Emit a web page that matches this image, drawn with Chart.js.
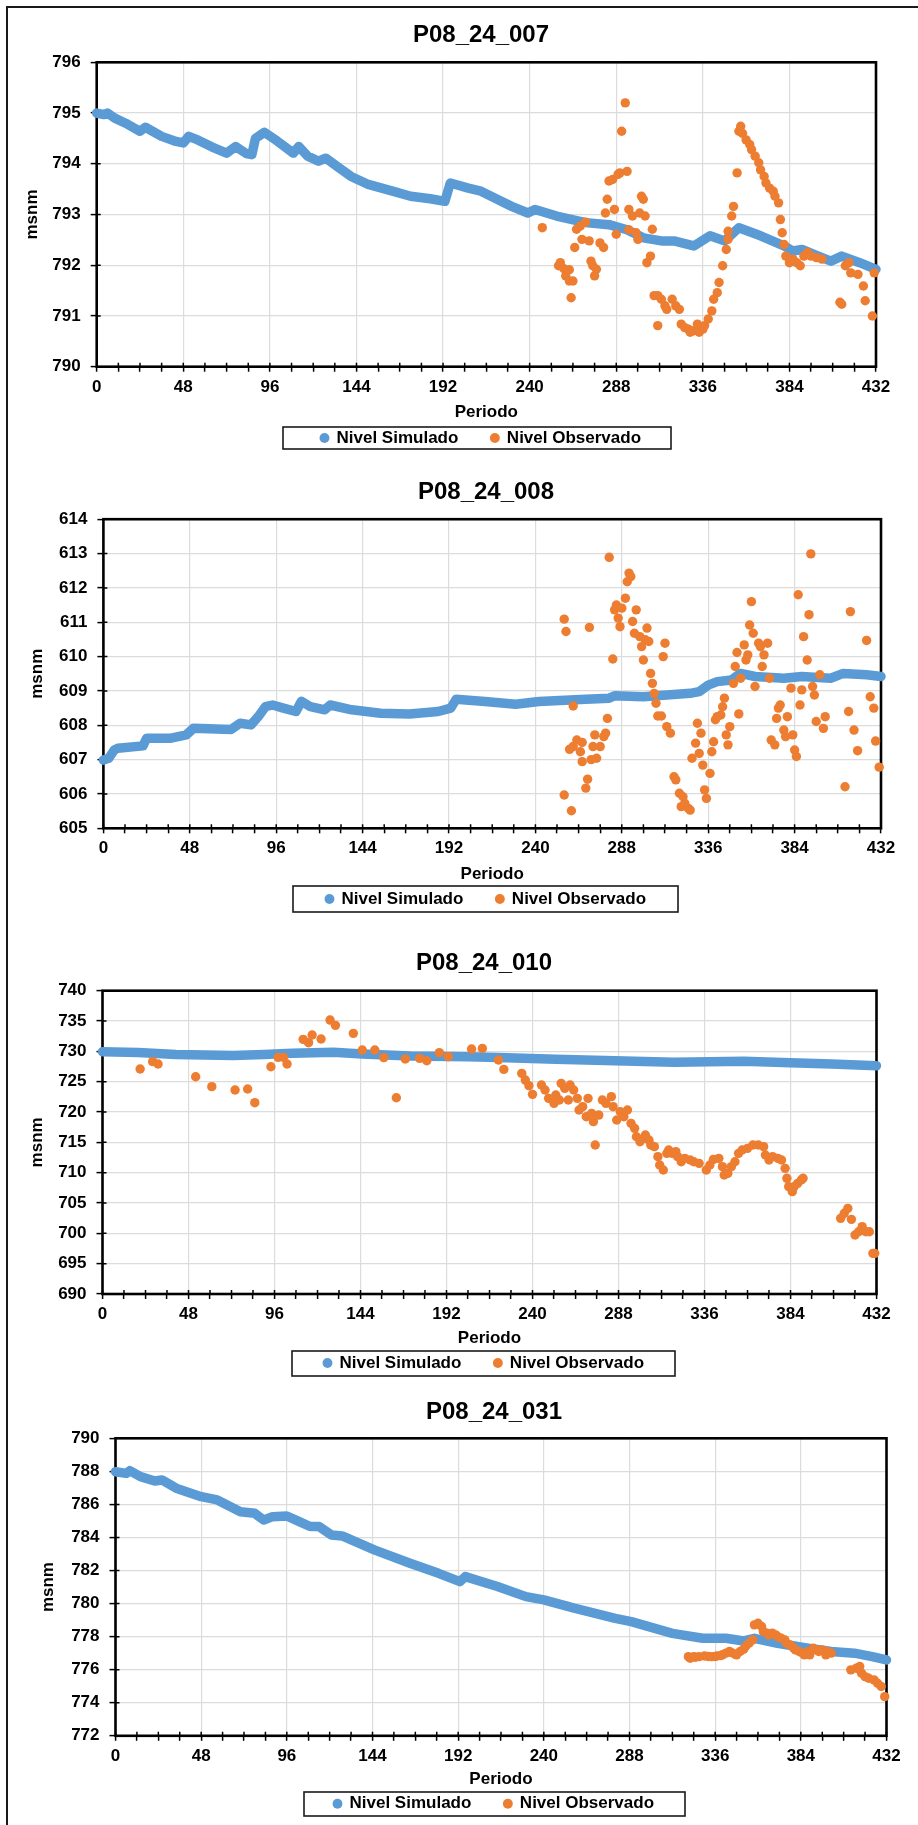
<!DOCTYPE html>
<html>
<head>
<meta charset="utf-8">
<title>Niveles simulados y observados</title>
<script src="https://cdn.jsdelivr.net/npm/chart.js@4.4.1/dist/chart.umd.min.js"></script>
<style>
  html, body { margin: 0; padding: 0; background: #ffffff; }
  #page { position: relative; width: 918px; height: 1825px; overflow: hidden; background: #ffffff; }
  #edge { position: absolute; left: 6px; top: 6px; width: 930px; height: 1840px;
          border-top: 2px solid #1a1a1a; border-left: 2px solid #1a1a1a; }
  canvas { position: absolute; left: 8px; }
</style>
</head>
<body>
<div id="page">
  <div id="edge"></div>
  <canvas id="c007"></canvas>
  <canvas id="c008"></canvas>
  <canvas id="c010"></canvas>
  <canvas id="c031"></canvas>
</div>
<script>
// ---------------- Data ----------------
const pozos = ['P08_24_007', 'P08_24_008', 'P08_24_010', 'P08_24_031'];
const series = ['Nivel Simulado', 'Nivel Observado'];
const periodoTicks = [0, 48, 96, 144, 192, 240, 288, 336, 384, 432];

// P08_24_007
const simPer007 = [0,4,6,10,16,24,27,36,44,48,51,56,64,72,77,83,86,88,93,100,109,112,117,123,127,134,141,150,158,166,174,185,193,196,206,213,222,230,239,243,255,271,284,294,303,313,320,331,340,348,356,368,381,386,391,400,407,413,423,432];
const simNiv007 = [795.0,794.97,795.0,794.9,794.8,794.64,794.72,794.54,794.44,794.41,794.54,794.47,794.33,794.21,794.34,794.2,794.18,794.5,794.62,794.45,794.21,794.34,794.15,794.05,794.11,793.93,793.75,793.6,793.52,793.44,793.36,793.31,793.26,793.62,793.52,793.46,793.3,793.16,793.03,793.1,792.97,792.84,792.8,792.7,792.54,792.48,792.48,792.38,792.58,792.48,792.74,792.58,792.38,792.28,792.31,792.18,792.08,792.18,792.05,791.92];
const obsPer007 = [247,256,257,259,260,262,262,263,264,265,266,268,269,271,273,274,275,276,277,279,281,282,283,284,286,287,288,289,290,291,293,294,295,295,297,299,300,301,302,303,304,305,307,308,309,311,311,313,315,316,319,321,323,324,326,328,329,331,333,334,336,337,339,341,342,344,345,347,349,350,350,352,353,355,356,357,358,360,362,363,365,367,368,370,371,373,375,376,378,379,380,381,382,384,386,388,390,392,394,396,399,402,412,413,415,417,418,422,425,426,430,431];
const obsNiv007 = [792.74,791.99,792.05,791.93,791.79,791.91,791.69,791.36,791.69,792.35,792.71,792.77,792.51,792.85,792.48,792.08,791.99,791.79,791.92,792.44,792.35,793.03,793.3,793.66,793.69,793.1,792.61,793.79,793.82,794.64,795.2,793.85,793.1,792.7,792.97,792.64,792.51,793.03,793.36,793.3,792.97,792.05,792.18,792.71,791.4,790.81,791.4,791.33,791.2,791.13,791.33,791.2,791.13,790.84,790.77,790.74,790.68,790.71,790.84,790.68,790.74,790.81,790.94,791.1,791.33,791.46,791.66,791.99,792.31,792.51,792.67,792.97,793.16,793.82,794.64,794.74,794.6,794.47,794.38,794.28,794.15,794.02,793.88,793.75,793.62,793.52,793.46,793.36,793.23,792.9,792.64,792.41,792.18,792.05,792.12,792.05,791.99,792.18,792.25,792.18,792.15,792.12,791.27,791.23,791.99,792.05,791.85,791.82,791.59,791.3,791.0,791.85];

// P08_24_008
const simPer008 = [0,3,6,8,22,24,37,46,50,71,76,82,86,90,94,100,107,110,115,123,126,138,154,170,186,193,196,212,229,242,268,281,284,300,313,326,331,336,341,349,354,362,378,388,404,411,424,432];
const simNiv008 = [606.99,607.04,607.28,607.33,607.4,607.62,607.62,607.72,607.91,607.88,608.06,608.01,608.25,608.54,608.59,608.5,608.4,608.7,608.54,608.45,608.59,608.45,608.35,608.33,608.4,608.5,608.76,608.69,608.61,608.69,608.76,608.79,608.86,608.83,608.88,608.93,608.98,609.17,609.27,609.32,609.51,609.42,609.37,609.42,609.37,609.51,609.47,609.42];
const obsPer008 = [256,256,257,259,260,261,261,263,265,266,266,268,269,270,271,272,273,274,276,278,279,280,281,283,284,285,286,287,288,290,291,292,293,294,295,296,298,299,300,301,302,303,304,305,306,307,308,310,311,312,313,315,317,318,320,321,322,323,325,326,327,329,330,331,332,333,334,335,337,338,339,340,341,343,344,345,346,347,348,350,351,352,353,354,356,357,358,359,360,361,362,364,365,366,367,369,370,371,373,374,375,376,378,379,380,382,383,384,385,386,387,388,389,391,392,393,394,395,396,398,400,401,412,414,415,417,419,424,426,428,429,431];
const obsNiv008 = [605.97,611.09,610.73,607.3,605.51,608.56,607.38,607.57,607.23,606.94,607.5,606.17,606.43,610.85,607.0,607.38,607.72,607.04,607.38,607.67,607.77,608.2,612.89,609.93,611.36,611.5,611.12,610.87,611.41,611.7,612.18,612.43,612.33,611.02,610.68,611.36,610.58,610.29,609.9,610.49,610.83,610.44,609.51,609.22,608.93,608.64,608.27,608.27,610.0,610.39,607.96,607.77,606.5,606.41,606.02,605.63,605.92,605.73,605.58,605.53,607.04,607.48,608.06,607.18,607.77,606.84,606.12,605.87,606.6,607.23,607.52,608.16,608.25,608.3,608.54,608.79,607.72,607.43,607.96,609.22,609.71,610.12,608.33,609.37,610.34,609.9,610.05,610.92,611.6,610.68,609.13,610.39,610.29,609.71,610.05,610.39,609.37,607.57,607.43,608.2,608.5,608.59,607.86,607.67,608.25,609.08,607.72,607.28,607.09,611.8,608.59,609.03,610.58,609.9,611.22,612.99,609.13,608.88,608.11,609.47,607.91,608.25,606.21,608.4,611.31,607.86,607.26,610.47,608.83,608.5,607.54,606.78];

// P08_24_010
const simPer010 = [0,20,41,73,90,106,129,145,172,204,221,253,286,319,358,384,407,432];
const simNiv010 = [729.95,729.8,729.5,729.3,729.5,729.67,729.84,729.56,729.23,729.1,729.0,728.68,728.46,728.19,728.35,728.13,727.9,727.64];
const obsPer010 = [21,28,31,52,61,74,81,85,94,98,101,103,112,115,117,122,127,130,140,145,152,157,164,169,177,181,188,193,206,212,221,224,234,236,238,240,245,247,249,252,253,255,256,258,260,261,263,265,266,268,270,271,273,274,275,277,279,281,284,285,287,289,291,293,295,297,298,300,302,303,305,306,308,310,311,313,315,316,318,320,321,323,325,328,330,333,337,339,341,344,346,347,349,351,353,355,357,360,363,366,369,370,372,374,377,379,381,382,383,385,386,388,390,391,412,414,416,418,420,422,424,426,428,430,431];
const obsNiv010 = [727.09,728.3,727.91,725.82,724.18,723.63,723.8,721.54,727.47,729.01,729.01,727.91,731.98,731.43,732.69,732.03,735.16,734.29,732.97,730.22,730.22,728.96,722.36,728.74,728.85,728.46,729.78,729.12,730.38,730.49,728.57,727.03,726.37,725.27,724.34,722.91,724.45,723.63,722.25,721.43,722.8,721.98,724.73,723.9,721.98,724.45,723.63,722.25,720.33,720.88,719.23,722.25,719.78,718.41,714.56,719.5,721.98,721.43,722.53,720.88,718.68,720.05,719.23,720.33,718.13,717.31,715.93,715.11,715.66,716.21,715.38,714.56,714.29,712.64,711.26,710.44,713.19,713.74,713.19,713.46,712.64,711.81,712.36,712.09,711.81,711.54,710.44,711.26,712.2,712.36,710.99,709.62,709.89,710.99,711.81,713.19,713.74,714.01,714.56,714.56,714.29,712.91,712.09,712.64,712.36,712.09,710.71,709.07,707.69,706.87,707.69,708.24,708.79,709.07,702.47,703.3,704.12,702.31,699.73,700.27,701.1,700.27,700.27,696.7,696.7];

// P08_24_031
const simPer031 = [0,6,8,14,22,26,34,48,57,70,78,83,88,96,103,109,114,121,127,145,165,181,193,196,214,230,240,257,280,289,312,329,342,352,358,371,388,401,414,424,432];
const simNiv031 = [787.98,787.88,788.04,787.68,787.42,787.48,786.98,786.47,786.27,785.56,785.46,785.06,785.26,785.3,784.96,784.66,784.66,784.15,784.09,783.25,782.44,781.83,781.33,781.63,781.03,780.42,780.22,779.72,779.11,778.91,778.2,777.9,777.9,777.74,777.9,777.6,777.3,777.1,777.0,776.79,776.59];
const obsPer031 = [321,322,324,325,327,330,332,334,336,337,339,340,342,344,345,347,348,350,352,353,355,357,358,360,362,363,365,366,368,370,371,373,375,376,378,380,381,383,385,386,388,389,391,393,394,396,398,399,401,412,415,417,418,420,422,425,427,429,431];
const obsNiv031 = [776.79,776.69,776.79,776.75,776.79,776.83,776.8,776.79,776.8,776.83,776.85,776.9,777.0,777.1,777.04,776.95,776.9,777.1,777.24,777.4,777.6,777.8,778.71,778.81,778.61,778.31,778.21,778.1,778.21,778.1,778.0,777.9,777.8,777.6,777.5,777.3,777.2,777.1,777.0,776.9,777.1,776.9,777.3,777.2,777.1,777.2,776.9,777.1,777.0,775.99,776.09,776.19,775.79,775.58,775.48,775.38,775.18,774.98,774.37];

// y-axis ranges per well
const yMin = [790, 605, 690, 772];
const yMax = [796, 614, 740, 790];
const yStep = [1, 1, 5, 2];

// ---------------- Styling ----------------
const FONT = "'Liberation Sans', Arial, Helvetica, sans-serif";
const BLUE = '#5B9BD5';
const ORANGE = '#ED7D31';
const GRID = '#dcdcdc';
const TITLE_PX = 24, TICK_PX = 17, AXIS_PX = 17, LEGEND_PX = 17;
const LEGEND_GAP = 33;
const Y_LABEL_GAP = 16;    // axis line to right edge of y labels
const X_LABEL_DROP = 20.3; // axis line to centre of x labels

Chart.defaults.font.family = FONT;
Chart.defaults.color = '#000';

// Page placement of each panel: plot rectangle, title / axis-title / legend anchors.
const frames = [
  { top: 12,   l: 96.7,  r: 876,   t: 62.3,   b: 366.7,  cx: 481, ty: 35.2,   py: 412.2,  ly: 438,    mx: 32.5, box: [283, 427, 671, 449] },
  { top: 462,  l: 103.4, r: 881,   t: 519.2,  b: 828.3,  cx: 486, ty: 492.3,  py: 874.3,  ly: 899,    mx: 37,   box: [293, 886, 678, 912] },
  { top: 935,  l: 102.5, r: 876.5, t: 990.7,  b: 1294,   cx: 484, ty: 963.3,  py: 1338.3, ly: 1363,   mx: 37,   box: [292, 1351, 675, 1376] },
  { top: 1385, l: 115.5, r: 886.5, t: 1438.3, b: 1735.8, cx: 494, ty: 1412.3, py: 1779,   ly: 1803.7, mx: 48,   box: [304, 1792, 685, 1816] }
];

function zip(xs, ys) {
  const n = Math.min(xs.length, ys.length);
  const out = [];
  for (let i = 0; i < n; i++) out.push({ x: xs[i], y: ys[i] });
  return out;
}

// widest y tick label, measured with the tick font
const measureCtx = document.createElement('canvas').getContext('2d');
function widestLabel(min, max, step) {
  measureCtx.font = 'bold ' + TICK_PX + 'px ' + FONT;
  let w = 0;
  for (let v = min; v <= max + 1e-9; v += step) w = Math.max(w, measureCtx.measureText(String(v)).width);
  return w;
}

// Plot-area border plus the inner half of the cross tick marks.
const plotFrame = {
  id: 'plotFrame',
  beforeDatasetsDraw(chart) {
    const { ctx, chartArea: a } = chart;
    const xs = chart.scales.x, ys = chart.scales.y;
    ctx.save();
    ctx.strokeStyle = '#000';
    ctx.lineWidth = 1.5;
    ctx.beginPath();
    xs.ticks.forEach(t => {
      const px = xs.getPixelForValue(t.value);
      ctx.moveTo(px, a.bottom); ctx.lineTo(px, a.bottom - 4);
    });
    ys.ticks.forEach(t => {
      const py = ys.getPixelForValue(t.value);
      ctx.moveTo(a.left, py); ctx.lineTo(a.left + 4, py);
    });
    ctx.stroke();
    ctx.lineWidth = 2.6;
    ctx.strokeRect(a.left, a.top, a.right - a.left, a.bottom - a.top);
    ctx.restore();
  }
};

// Box around the legend entries.
const legendFrame = {
  id: 'legendFrame',
  afterDraw(chart, args, opts) {
    const b = opts.box;
    if (!b) return;
    const ctx = chart.ctx;
    ctx.save();
    ctx.strokeStyle = '#1a1a1a';
    ctx.lineWidth = 1.6;
    ctx.strokeRect(b[0], b[1], b[2] - b[0], b[3] - b[1]);
    ctx.restore();
  }
};

function buildChart(idx, canvasId, sim, obs) {
  const p = frames[idx];
  const X0 = 8, W = 910;
  const padR = 918 - p.r;
  const padL = 2 * (p.cx - X0) - W + padR;
  const yAxisW = p.l - X0 - padL;
  const tLine = TITLE_PX * 1.2;
  const tTop = p.ty - p.top - tLine / 2;
  const tBot = p.t - p.top - tTop - tLine;
  const legH = LEGEND_PX + LEGEND_GAP + 10;
  const legTop = p.ly - LEGEND_PX / 2 - LEGEND_GAP;
  const xAxisH = legTop - p.b;
  const H = Math.ceil(legTop + legH - p.top);
  const padB = H - (legTop + legH - p.top);
  const xTitleBot = legTop - AXIS_PX * 0.6 - p.py;
  const yTitleTop = (p.mx - X0) - padL - AXIS_PX * 0.6;
  const box = [p.box[0] - X0, p.box[1] - p.top, p.box[2] - X0, p.box[3] - p.top];
  const yWidest = widestLabel(yMin[idx], yMax[idx], yStep[idx]);

  const cv = document.getElementById(canvasId);
  cv.width = W; cv.height = H;
  cv.style.top = p.top + 'px';
  cv.style.width = W + 'px'; cv.style.height = H + 'px';

  const tickFont = { family: FONT, size: TICK_PX, weight: 'bold' };
  const axisFont = { family: FONT, size: AXIS_PX, weight: 'bold' };

  return new Chart(cv, {
    type: 'scatter',
    data: {
      datasets: [
        {
          label: series[0],
          data: sim,
          showLine: true,
          borderColor: BLUE,
          backgroundColor: BLUE,
          borderWidth: 9.5,
          borderCapStyle: 'round',
          borderJoinStyle: 'round',
          pointRadius: 0,
          pointHoverRadius: 0,
          pointBackgroundColor: BLUE,
          pointBorderWidth: 0,
          pointStyle: 'circle',
          tension: 0,
          clip: false,
          order: 2
        },
        {
          label: series[1],
          data: obs,
          showLine: false,
          borderColor: ORANGE,
          backgroundColor: ORANGE,
          pointBackgroundColor: ORANGE,
          pointBorderWidth: 0,
          pointRadius: 4.7,
          pointHoverRadius: 4.7,
          pointStyle: 'circle',
          clip: false,
          order: 1
        }
      ]
    },
    options: {
      responsive: false,
      animation: false,
      devicePixelRatio: 1,
      events: [],
      layout: { padding: { left: padL, right: padR, top: 0, bottom: padB } },
      scales: {
        x: {
          type: 'linear',
          min: 0, max: 432,
          afterFit: s => { s.height = xAxisH; },
          border: { display: false },
          grid: {
            color: c => (c.tick && c.tick.value % 48 === 0) ? GRID : 'rgba(0,0,0,0)',
            lineWidth: 1.2,
            drawTicks: true,
            tickLength: 5,
            tickColor: '#000',
            tickWidth: 1.5
          },
          ticks: {
            stepSize: 12,
            autoSkip: false,
            maxRotation: 0,
            minRotation: 0,
            mirror: true,
            padding: -(X_LABEL_DROP + TICK_PX * 0.6),
            font: tickFont,
            color: '#000',
            callback: v => periodoTicks.includes(v) ? String(v) : ''
          },
          title: {
            display: true, text: 'Periodo', font: axisFont, color: '#000',
            padding: { top: 0, bottom: xTitleBot }
          }
        },
        y: {
          type: 'linear',
          min: yMin[idx], max: yMax[idx],
          afterFit: s => { s.width = yAxisW; },
          border: { display: false },
          grid: {
            color: GRID,
            lineWidth: 1.2,
            drawTicks: true,
            tickLength: 6,
            tickColor: '#000',
            tickWidth: 1.5
          },
          ticks: {
            stepSize: yStep[idx],
            mirror: true,
            crossAlign: 'far',
            padding: -(Y_LABEL_GAP + yWidest),
            font: tickFont,
            color: '#000'
          },
          title: {
            display: true, text: 'msnm', font: axisFont, color: '#000',
            padding: { top: yTitleTop, bottom: 0 }
          }
        }
      },
      plugins: {
        title: {
          display: true,
          text: pozos[idx],
          color: '#000',
          font: { family: FONT, size: TITLE_PX, weight: 'bold' },
          padding: { top: tTop, bottom: tBot }
        },
        legend: {
          display: true,
          position: 'bottom',
          labels: {
            usePointStyle: true,
            pointStyle: 'circle',
            boxWidth: 7,
            boxHeight: 7,
            padding: LEGEND_GAP,
            color: '#000',
            font: { family: FONT, size: LEGEND_PX, weight: 'bold' },
            sort: (a, b) => a.datasetIndex - b.datasetIndex
          }
        },
        tooltip: { enabled: false },
        legendFrame: { box: box }
      }
    },
    plugins: [plotFrame, legendFrame]
  });
}

buildChart(0, 'c007', zip(simPer007, simNiv007), zip(obsPer007, obsNiv007));
buildChart(1, 'c008', zip(simPer008, simNiv008), zip(obsPer008, obsNiv008));
buildChart(2, 'c010', zip(simPer010, simNiv010), zip(obsPer010, obsNiv010));
buildChart(3, 'c031', zip(simPer031, simNiv031), zip(obsPer031, obsNiv031));
</script>
</body>
</html>
